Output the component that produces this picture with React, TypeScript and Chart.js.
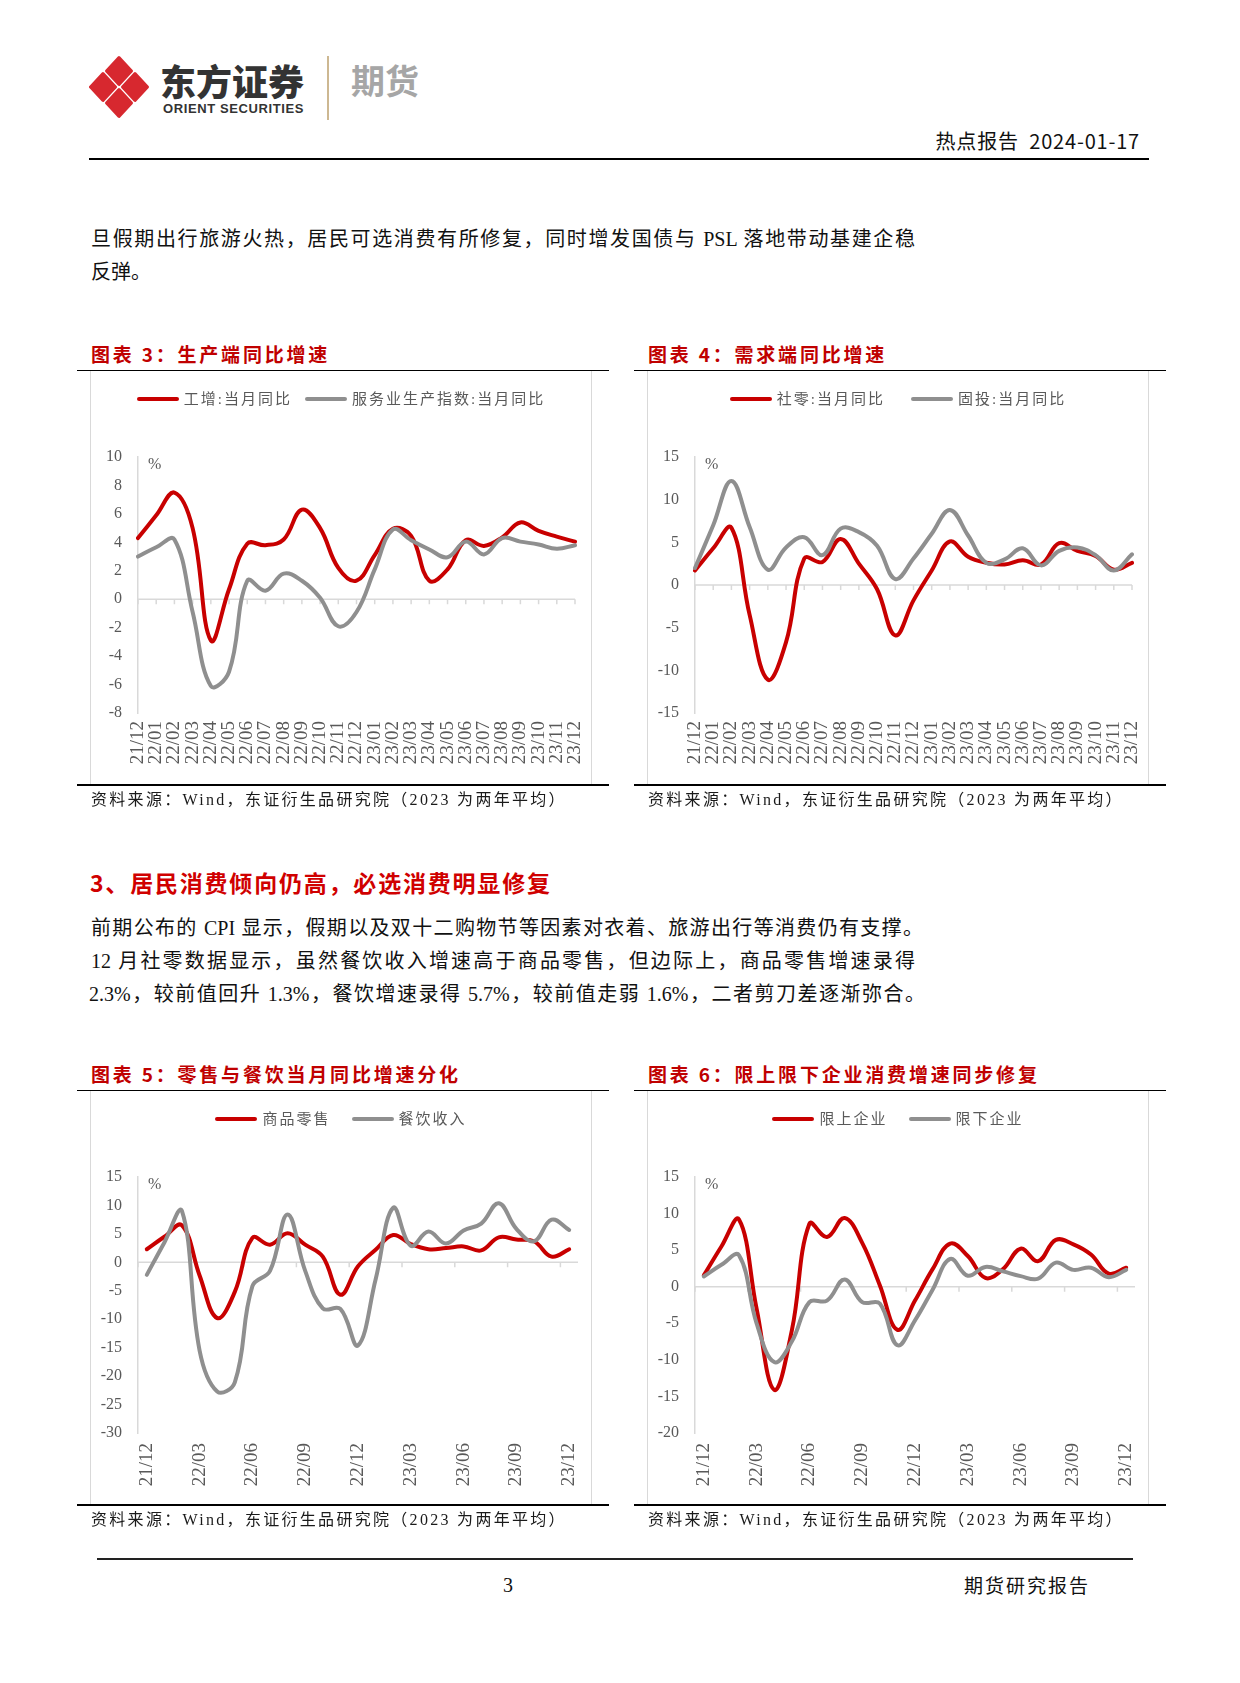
import React, { useEffect, useRef } from 'react';
import { Chart, registerables } from 'chart.js';

Chart.register(...registerables);

// ---------------- data ----------------
const monthLabels = ['21/12', '22/01', '22/02', '22/03', '22/04', '22/05', '22/06', '22/07', '22/08', '22/09', '22/10', '22/11', '22/12', '23/01', '23/02', '23/03', '23/04', '23/05', '23/06', '23/07', '23/08', '23/09', '23/10', '23/11', '23/12'];

// 图表3
const industrialOutput = [4.3, 5.9, 7.5, 5.0, -2.9, 0.7, 3.9, 3.8, 4.2, 6.3, 5.0, 2.2, 1.3, 3.1, 4.95, 4.45, 1.3, 2.1, 4.15, 3.75, 4.35, 5.4, 4.8, 4.4, 4.05];
const servicesIndex = [3.0, 3.65, 4.2, -0.9, -6.1, -5.1, 1.3, 0.6, 1.8, 1.3, 0.1, -1.9, -0.9, 2.1, 4.9, 4.15, 3.5, 2.95, 4.05, 3.15, 4.3, 4.05, 3.85, 3.55, 3.8];
// 图表4
const retailSales = [1.7, 4.3, 6.7, -3.5, -11.1, -6.7, 3.1, 2.7, 5.4, 2.5, -0.5, -5.9, -1.8, 1.7, 5.1, 3.3, 2.6, 2.4, 2.9, 2.4, 4.9, 4.0, 3.4, 1.8, 2.6];
const fixedInvestment = [2.0, 7.0, 12.2, 6.8, 1.8, 4.4, 5.6, 3.5, 6.6, 6.2, 4.6, 0.7, 3.1, 6.0, 8.8, 5.8, 2.6, 3.0, 4.3, 2.3, 4.0, 4.4, 3.5, 1.7, 3.6];
// 图表5
const goodsRetail = [2.3, 4.5, 6.5, -2.3, -9.8, -5.2, 4.3, 3.1, 5.1, 3.1, 1.0, -5.7, -0.7, 2.2, 4.8, 3.2, 2.3, 2.5, 2.8, 2.1, 4.4, 4.0, 3.7, 1.0, 2.3];
const cateringRevenue = [-2.2, 3.5, 9.0, -15.5, -22.7, -21.1, -4.2, -1.5, 8.4, -1.5, -8.1, -8.2, -14.6, -3.0, 9.6, 2.9, 5.4, 3.3, 5.6, 6.8, 10.4, 5.9, 3.7, 7.5, 5.7];
// 图表6
const aboveQuota = [1.55, 5.5, 9.2, -3.0, -14.1, -6.0, 8.6, 6.8, 9.4, 6.0, 0.2, -5.9, -1.9, 2.4, 5.9, 4.2, 1.2, 2.4, 5.2, 3.5, 6.4, 5.8, 4.4, 1.8, 2.6];
const belowQuota = [1.4, 3.0, 4.3, -5.0, -10.3, -7.5, -2.1, -1.9, 1.0, -2.1, -2.3, -8.0, -4.6, -0.4, 3.8, 1.5, 2.7, 2.1, 1.45, 1.1, 3.3, 2.3, 2.6, 1.3, 2.3];

// ---------------- styles ----------------
const RED = '#c80000';
const GRAY = '#8f8f8f';
const AXIS = '#d9d9d9';
const TICK_TEXT = '#595959';
const SERIF = "'Liberation Serif', 'Times New Roman', 'Noto Sans CJK SC', serif";
const CJK = "'Noto Sans CJK SC', 'Liberation Sans', sans-serif";

const BOX_W = 502;
const BOX_H = 414;

const zeroAxisPlugin = {
  id: 'zeroAxis',
  beforeDatasetsDraw(chart: any, _args: any, opts: any) {
    const { ctx, chartArea, scales } = chart;
    const xs = scales.x;
    const y0 = scales.y.getPixelForValue(0);
    ctx.save();
    ctx.strokeStyle = AXIS;
    ctx.lineWidth = 1.5;
    ctx.beginPath();
    ctx.moveTo(chartArea.left, y0);
    ctx.lineTo(chartArea.right, y0);
    const n = chart.data.labels.length;
    for (let i = 0; i < n; i++) {
      let px: number;
      if (opts.quarterly) {
        if (i % 3 !== 0) continue;
        px = i === 0 ? chartArea.left : (xs.getPixelForValue(i - 1) + xs.getPixelForValue(i)) / 2;
      } else {
        px = xs.getPixelForValue(i);
      }
      ctx.moveTo(px, y0);
      ctx.lineTo(px, y0 + 5);
    }
    ctx.stroke();
    ctx.restore();
  },
};

type ChartCfg = {
  left: number;
  top: number;
  title: string;
  names: [string, string];
  series: [number[], number[]];
  min: number;
  max: number;
  step: number;
  quarterly: boolean;
  legendGap: number;
};

function LineChart({ cfg }: { cfg: ChartCfg }) {
  const ref = useRef<HTMLCanvasElement>(null);
  useEffect(() => {
    const chart = new Chart(ref.current as HTMLCanvasElement, {
      type: 'line',
      data: {
        labels: monthLabels,
        datasets: [
          {
            label: cfg.names[0],
            data: cfg.series[0],
            borderColor: RED,
            borderWidth: 4,
            pointRadius: 0,
            tension: 0.4,
            fill: false,
            borderCapStyle: 'round',
            borderJoinStyle: 'round',
            order: 1,
          },
          {
            label: cfg.names[1],
            data: cfg.series[1],
            borderColor: GRAY,
            borderWidth: 4,
            pointRadius: 0,
            tension: 0.4,
            fill: false,
            borderCapStyle: 'round',
            borderJoinStyle: 'round',
            order: 0,
          },
        ],
      },
      options: {
        responsive: false,
        animation: false,
        layout: { padding: { top: 86, right: cfg.quarterly ? 14 : 17, bottom: 0, left: 0 } },
        plugins: {
          legend: { display: false },
          tooltip: { enabled: false },
          zeroAxis: { quarterly: cfg.quarterly },
        } as any,
        scales: {
          x: {
            offset: cfg.quarterly,
            grid: { display: false, drawTicks: false },
            border: { display: false },
            ticks: {
              autoSkip: false,
              minRotation: 90,
              maxRotation: 90,
              padding: cfg.quarterly ? 10 : 8,
              color: TICK_TEXT,
              font: { family: SERIF, size: 19 },
              callback: (_v: any, i: number) => (cfg.quarterly && i % 3 !== 0 ? '' : monthLabels[i]),
            },
            afterFit: (s: any) => {
              s.height = 72;
              s.paddingLeft = 0;
              s.paddingRight = 0;
            },
          },
          y: {
            min: cfg.min,
            max: cfg.max,
            grid: { display: false, drawTicks: false },
            border: { display: true, color: AXIS, width: 1.5 },
            ticks: {
              stepSize: cfg.step,
              padding: 16,
              color: TICK_TEXT,
              font: { family: SERIF, size: 16 },
            },
            afterFit: (s: any) => {
              s.width = 48;
              s.paddingTop = 0;
              s.paddingBottom = 0;
            },
          },
        },
      } as any,
      plugins: [zeroAxisPlugin],
    });
    return () => chart.destroy();
  }, []);

  const legendItem = (color: string, text: string) => (
    <div style={{ display: 'flex', alignItems: 'center' }}>
      <div style={{ width: 42, height: 4, background: color, borderRadius: 2, marginRight: 5 }} />
      <span style={{ fontFamily: SERIF, fontSize: 15, letterSpacing: 2, color: TICK_TEXT, lineHeight: '20px' }}>{text}</span>
    </div>
  );

  const { left, top } = cfg;
  return (
    <>
      {/* title */}
      <div
        style={{
          position: 'absolute',
          left: left + 1,
          top: top - 31,
          fontFamily: CJK,
          fontWeight: 700,
          fontSize: 19,
          letterSpacing: 2.8,
          lineHeight: '28px',
          color: '#c00000',
          whiteSpace: 'nowrap',
        }}
      >
        {cfg.title}
      </div>
      <div style={{ position: 'absolute', left: left - 13, top: top - 1.5, width: 532, height: 1.5, background: '#000' }} />
      {/* chart area border */}
      <div style={{ position: 'absolute', left: left, top: top, width: BOX_W, height: BOX_H, borderLeft: `1px solid ${AXIS}`, borderRight: `1px solid ${AXIS}`, boxSizing: 'border-box' }} />
      <canvas ref={ref} width={BOX_W} height={BOX_H} style={{ position: 'absolute', left: left, top: top, width: BOX_W, height: BOX_H }} />
      {/* legend */}
      <div style={{ position: 'absolute', left: left, top: top + 18, width: BOX_W, height: 20, display: 'flex', justifyContent: 'center', alignItems: 'center' }}>
        {legendItem(RED, cfg.names[0])}
        <div style={{ width: cfg.legendGap }} />
        {legendItem(GRAY, cfg.names[1])}
      </div>
      {/* unit */}
      <div style={{ position: 'absolute', left: left + 58, top: top + 83, fontFamily: SERIF, fontSize: 16, lineHeight: '20px', color: TICK_TEXT }}>%</div>
      {/* bottom rule & source */}
      <div style={{ position: 'absolute', left: left - 13, top: top + BOX_H - 0.75, width: 532, height: 1.5, background: '#000' }} />
      <div
        style={{
          position: 'absolute',
          left: left + 1,
          top: top + BOX_H + 4,
          fontFamily: SERIF,
          fontSize: 16,
          letterSpacing: 2.3,
          lineHeight: '22px',
          color: '#1a1a1a',
          whiteSpace: 'nowrap',
        }}
      >
        资料来源：Wind，东证衍生品研究院（2023 为两年平均）
      </div>
    </>
  );
}

const charts: ChartCfg[] = [
  {
    left: 90,
    top: 371,
    title: '图表 3：生产端同比增速',
    names: ['工增:当月同比', '服务业生产指数:当月同比'],
    series: [industrialOutput, servicesIndex],
    min: -8,
    max: 10,
    step: 2,
    quarterly: false,
    legendGap: 13,
  },
  {
    left: 647,
    top: 371,
    title: '图表 4：需求端同比增速',
    names: ['社零:当月同比', '固投:当月同比'],
    series: [retailSales, fixedInvestment],
    min: -15,
    max: 15,
    step: 5,
    quarterly: false,
    legendGap: 26,
  },
  {
    left: 90,
    top: 1091,
    title: '图表 5：零售与餐饮当月同比增速分化',
    names: ['商品零售', '餐饮收入'],
    series: [goodsRetail, cateringRevenue],
    min: -30,
    max: 15,
    step: 5,
    quarterly: true,
    legendGap: 21,
  },
  {
    left: 647,
    top: 1091,
    title: '图表 6：限上限下企业消费增速同步修复',
    names: ['限上企业', '限下企业'],
    series: [aboveQuota, belowQuota],
    min: -20,
    max: 15,
    step: 5,
    quarterly: true,
    legendGap: 21,
  },
];

function JLine({ x, y, w, text }: { x: number; y: number; w: number; text: string }) {
  return (
    <div
      style={{
        position: 'absolute',
        left: x,
        top: y - 15,
        width: w,
        fontFamily: SERIF,
        fontSize: 20,
        lineHeight: '30px',
        color: '#111',
        textAlign: 'justify',
        textAlignLast: 'justify',
      }}
    >
      {text}
    </div>
  );
}

function Logo() {
  const s = 12.5;
  const pts = (cx: number, cy: number) => `${cx},${cy - s * 1.08} ${cx + s},${cy} ${cx},${cy + s * 1.08} ${cx - s},${cy}`;
  const c = { x: 30, y: 33 };
  const d = 16;
  return (
    <svg width={62} height={68} style={{ position: 'absolute', left: 89, top: 54 }}>
      {[
        [c.x, c.y - d],
        [c.x - d, c.y],
        [c.x + d, c.y],
        [c.x, c.y + d],
      ].map(([cx, cy], i) => (
        <polygon key={i} points={pts(cx, cy)} fill="#d7282f" stroke="#d7282f" strokeWidth={3} strokeLinejoin="round" />
      ))}
    </svg>
  );
}

export default function App() {
  return (
    <div style={{ position: 'absolute', left: 0, top: 0, width: 1240, height: 1683, background: '#fff', overflow: 'hidden' }}>
      {/* header */}
      <Logo />
      <div style={{ position: 'absolute', left: 160, top: 58, fontFamily: CJK, fontWeight: 900, fontSize: 36, lineHeight: '44px', color: '#333', whiteSpace: 'nowrap' }}>东方证券</div>
      <div style={{ position: 'absolute', left: 163, top: 102, fontFamily: "'Liberation Sans', Arial, sans-serif", fontWeight: 700, fontSize: 13, letterSpacing: 0.6, lineHeight: '14px', color: '#333', whiteSpace: 'nowrap' }}>ORIENT SECURITIES</div>
      <div style={{ position: 'absolute', left: 327, top: 56, width: 1.5, height: 64, background: '#cdb892' }} />
      <div style={{ position: 'absolute', left: 351, top: 59, fontFamily: CJK, fontWeight: 700, fontSize: 34, lineHeight: '42px', color: '#a6a6a6', whiteSpace: 'nowrap' }}>期货</div>
      <div style={{ position: 'absolute', right: 100, top: 127, fontFamily: CJK, fontSize: 20, letterSpacing: 0.8, lineHeight: '28px', color: '#111', whiteSpace: 'nowrap' }}>热点报告&nbsp;&nbsp;2024-01-17</div>
      <div style={{ position: 'absolute', left: 89, top: 158, width: 1060, height: 1.5, background: '#000' }} />

      {/* paragraph 1 */}
      <JLine x={91} y={239} w={824} text="旦假期出行旅游火热，居民可选消费有所修复，同时增发国债与 PSL 落地带动基建企稳" />
      <div style={{ position: 'absolute', left: 91, top: 257, fontFamily: SERIF, fontSize: 20, lineHeight: '30px', color: '#111' }}>反弹。</div>

      {charts.slice(0, 2).map((c, i) => (
        <LineChart key={i} cfg={c} />
      ))}

      {/* section heading */}
      <div style={{ position: 'absolute', left: 90, top: 866, fontFamily: CJK, fontWeight: 700, fontSize: 23, letterSpacing: 1.8, lineHeight: '32px', color: '#d00000', whiteSpace: 'nowrap' }}>
        3、居民消费倾向仍高，必选消费明显修复
      </div>

      {/* paragraph 2 */}
      <JLine x={91} y={928} w={832} text="前期公布的 CPI 显示，假期以及双十二购物节等因素对衣着、旅游出行等消费仍有支撑。" />
      <JLine x={91} y={961} w={824} text="12 月社零数据显示，虽然餐饮收入增速高于商品零售，但边际上，商品零售增速录得" />
      <JLine x={89} y={994} w={836} text="2.3%，较前值回升 1.3%，餐饮增速录得 5.7%，较前值走弱 1.6%，二者剪刀差逐渐弥合。" />

      {charts.slice(2).map((c, i) => (
        <LineChart key={i + 2} cfg={c} />
      ))}

      {/* footer */}
      <div style={{ position: 'absolute', left: 97, top: 1558, width: 1036, height: 2, background: '#222' }} />
      <div style={{ position: 'absolute', left: 503, top: 1571, fontFamily: SERIF, fontSize: 20, lineHeight: '28px', color: '#111' }}>3</div>
      <div style={{ position: 'absolute', left: 964, top: 1571, fontFamily: CJK, fontSize: 19, letterSpacing: 2, lineHeight: '28px', color: '#111', whiteSpace: 'nowrap' }}>期货研究报告</div>
    </div>
  );
}
